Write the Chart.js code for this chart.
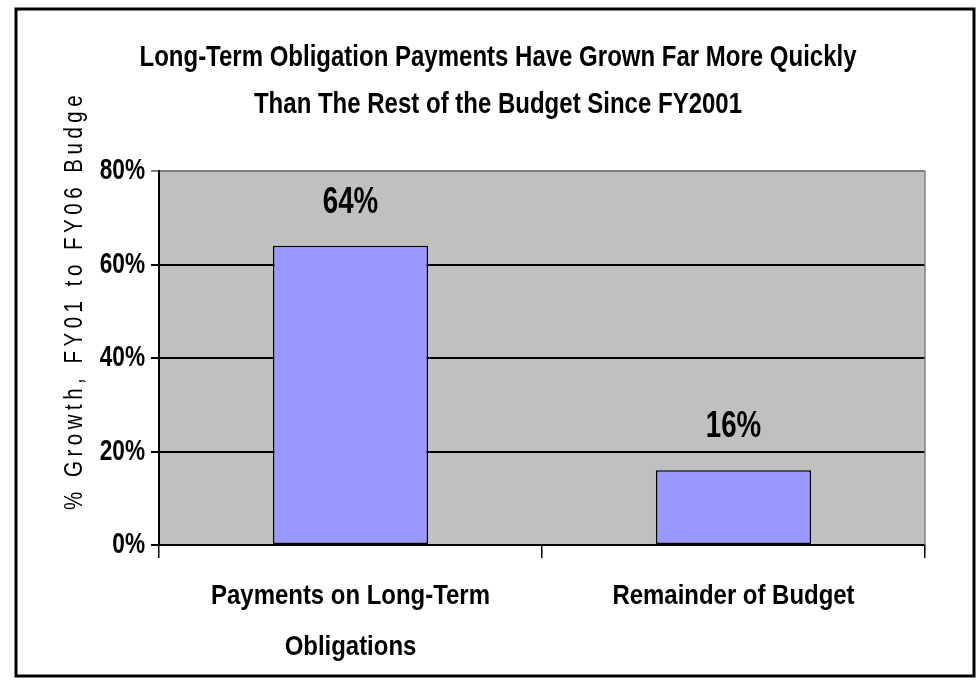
<!DOCTYPE html>
<html>
<head>
<meta charset="utf-8">
<script src="https://cdn.jsdelivr.net/npm/chart.js@4/dist/chart.umd.min.js"></script>
<style>
  html, body { margin: 0; padding: 0; background: #ffffff; }
  #wrap { width: 978px; height: 680px; position: relative; }
</style>
</head>
<body>
<div id="wrap"><canvas id="c" width="978" height="680"></canvas></div>
<script>
// ---- Data ----
const categories = [["Payments on Long-Term", "Obligations"], "Remainder of Budget"];
const growthValues = [64, 16];
const dataLabels = ["64%", "16%"];
const yTickValues = [0, 20, 40, 60, 80];
const chartTitle = ["Long-Term Obligation Payments Have Grown Far More Quickly", "Than The Rest of the Budget Since FY2001"];
const yAxisTitle = "% Growth, FY01 to FY06 Budge";

const FONT = '"Liberation Sans", Arial, sans-serif';

// Narrow-font emulation: bold text is drawn horizontally condensed around its anchor.
const canvas = document.getElementById('c');
const c2d = canvas.getContext('2d');
const origFillText = c2d.fillText;
const condense = { 30: 0.80, 29: 0.78, 28: 0.855, 36: 0.77 };
c2d.fillText = function (text, x, y, maxWidth) {
  const m = /bold (\d+(?:\.\d+)?)px/.exec(this.font);
  if (!m) {
    return maxWidth === undefined ? origFillText.call(this, text, x, y) : origFillText.call(this, text, x, y, maxWidth);
  }
  const sx = condense[Math.round(parseFloat(m[1]))] || 0.82;
  this.save();
  this.translate(x, y);
  this.scale(sx, 1);
  if (maxWidth === undefined) origFillText.call(this, text, 0, 0);
  else origFillText.call(this, text, 0, 0, maxWidth / sx);
  this.restore();
};

const bgPlugin = {
  id: 'bgPlugin',
  beforeDraw(chart) {
    const { ctx, chartArea: a } = chart;
    ctx.save();
    ctx.fillStyle = '#ffffff';
    ctx.fillRect(0, 0, chart.width, chart.height);
    ctx.fillStyle = '#C0C0C0';
    ctx.fillRect(a.left, a.top, a.right - a.left, a.bottom - a.top);
    ctx.restore();
  },
  afterDraw(chart) {
    const { ctx, chartArea: a } = chart;
    ctx.save();
    // plot area right border (gray)
    ctx.strokeStyle = '#808080';
    ctx.lineWidth = 1.5;
    ctx.beginPath();
    ctx.moveTo(a.right, a.top);
    ctx.lineTo(a.right, a.bottom);
    ctx.stroke();
    // outer frame
    ctx.strokeStyle = '#000000';
    ctx.lineWidth = 3;
    ctx.strokeRect(16, 9, 958, 667);
    // y axis title, rotated, condensed and letter-spaced
    ctx.fillStyle = '#000000';
    ctx.font = '25px ' + FONT;
    try { ctx.letterSpacing = '5.5px'; } catch (e) {}
    ctx.translate(82, 510);
    ctx.rotate(-Math.PI / 2);
    ctx.scale(0.82, 1);
    ctx.textAlign = 'left';
    ctx.textBaseline = 'alphabetic';
    ctx.fillText(yAxisTitle, 0, 0);
    ctx.restore();
  }
};

const labelPlugin = {
  id: 'labelPlugin',
  afterDatasetsDraw(chart) {
    const { ctx } = chart;
    const meta = chart.getDatasetMeta(0);
    ctx.save();
    ctx.fillStyle = '#000000';
    ctx.font = 'bold 36px ' + FONT;
    ctx.textAlign = 'center';
    ctx.textBaseline = 'alphabetic';
    meta.data.forEach((bar, i) => {
      ctx.fillText(dataLabels[i], bar.x, bar.y - 33);
    });
    ctx.restore();
  }
};

new Chart(canvas, {
  type: 'bar',
  data: {
    labels: categories,
    datasets: [{
      data: growthValues,
      backgroundColor: '#9999FF',
      borderColor: '#000000',
      borderWidth: 1.5,
      borderSkipped: false,
      barPercentage: 0.405,
      categoryPercentage: 1.0
    }]
  },
  options: {
    responsive: false,
    animation: false,
    devicePixelRatio: 1,
    layout: { padding: { left: 71, right: 53, top: 0, bottom: 0 } },
    plugins: {
      legend: { display: false },
      tooltip: { enabled: false },
      title: {
        display: true,
        text: chartTitle,
        color: '#000000',
        font: { family: FONT, size: 30, weight: 'bold', lineHeight: 47 / 30 },
        padding: { top: 34, bottom: 43 }
      }
    },
    scales: {
      x: {
        grid: {
          display: true,
          drawOnChartArea: false,
          drawTicks: true,
          tickLength: 13,
          color: '#000000',
          lineWidth: 1.5,
          offset: true
        },
        border: { display: true, color: '#000000', width: 2 },
        ticks: {
          color: '#000000',
          font: { family: FONT, size: 28, weight: 'bold', lineHeight: 1.85 },
          padding: 12,
          maxRotation: 0,
          autoSkip: false
        },
        afterFit(scale) { scale.height = 135; }
      },
      y: {
        min: 0,
        max: 80,
        afterBuildTicks(scale) { scale.ticks = yTickValues.map(v => ({ value: v })); },
        grid: {
          color: (c) => (c.tick && c.tick.value === 80) ? '#808080' : '#000000',
          lineWidth: 2,
          tickLength: 8,
          drawTicks: true
        },
        border: { display: true, color: '#000000', width: 2 },
        ticks: {
          color: '#000000',
          font: { family: FONT, size: 29, weight: 'bold' },
          padding: 6,
          callback: (v) => v + '%'
        },
        afterFit(scale) { scale.width = 88; }
      }
    }
  },
  plugins: [bgPlugin, labelPlugin]
});
</script>
</body>
</html>
